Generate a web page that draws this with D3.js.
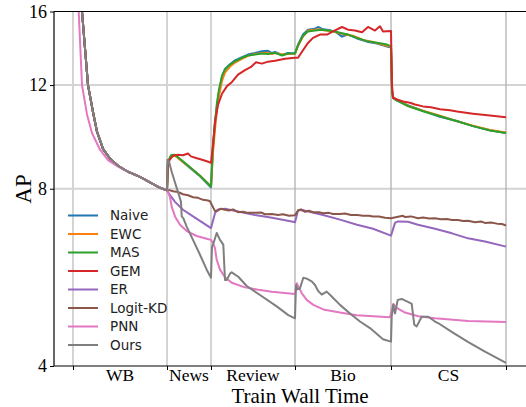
<!DOCTYPE html>
<html><head><meta charset="utf-8">
<script src="https://cdn.jsdelivr.net/npm/d3@7"></script>
<style>html,body{margin:0;padding:0;background:#fff;}svg{display:block;}</style>
</head><body>
<script>
// ---------- data ----------
const tasks = ["WB", "News", "Review", "Bio", "CS"];
const boundaries = [0, 9.4, 13.8, 22.2, 31.8, 43.3];
const yTicks = [4, 8, 12, 16];
const seriesNames = ["Naive", "EWC", "MAS", "GEM", "ER", "Logit-KD", "PNN", "Ours"];
const colors = ["#1f77b4", "#ff7f0e", "#2ca02c", "#d62728", "#9467bd", "#8c564b", "#e377c2", "#7f7f7f"];

const wbBase = [[0.4,26],[0.9,16],[1.5,12],[2.0,10.8],[2.4,10.0],[3.0,9.35],[3.7,9.0],[4.5,8.75],[5.5,8.55],[6.7,8.38],[7.7,8.2],[8.7,8.03],[9.4,7.95]];

const naive = [[9.5,8.85],[9.8,9.1],[10.2,9.12],[11.5,8.74],[12.7,8.4],[13.8,8.04],
  [14.0,9.4],[14.2,10.3],[14.4,11.1],[14.6,11.7],[14.9,12.4],[15.2,12.78],[15.7,13.02],[16.2,13.22],[16.9,13.38],[17.5,13.52],[18.2,13.6],[18.9,13.7],[19.5,13.72],[19.9,13.6],[20.2,13.66],[20.9,13.5],[21.5,13.6],[22.2,13.58],
  [22.5,14.05],[23.0,14.62],[23.5,14.9],[24.2,14.95],[24.5,15.06],[24.9,14.95],[25.5,14.88],[26.2,14.8],[26.9,14.5],[27.5,14.62],[28.4,14.4],[29.4,14.22],[30.4,14.12],[31.4,13.95],[31.8,13.9],
  [31.9,11.8],[32.0,11.45],[32.4,11.3],[33.4,11.1],[35.0,10.85],[36.7,10.6],[38.4,10.43],[40.0,10.22],[41.7,10.06],[43.3,9.95]];
const ewc = [[9.5,8.8],[9.8,9.08],[10.2,9.1],[11.5,8.75],[12.7,8.42],[13.8,8.07],
  [14.0,9.2],[14.2,10.1],[14.4,10.9],[14.6,11.5],[14.9,12.2],[15.2,12.6],[15.7,12.9],[16.2,13.1],[16.9,13.3],[17.5,13.45],[18.2,13.55],[18.9,13.6],[19.5,13.62],[19.9,13.55],[20.2,13.6],[20.9,13.52],[21.5,13.55],[22.2,13.57],
  [22.5,14.0],[23.0,14.5],[23.5,14.85],[24.2,14.9],[24.7,14.92],[25.2,14.85],[25.9,14.82],[26.5,14.72],[27.2,14.62],[28.0,14.55],[29.0,14.32],[30.0,14.2],[31.0,14.05],[31.8,13.94],
  [31.9,11.75],[32.0,11.42],[32.4,11.32],[33.4,11.08],[35.0,10.86],[36.7,10.64],[38.4,10.42],[40.0,10.24],[41.7,10.07],[43.3,9.97]];
const mas = [[9.5,8.9],[9.8,9.12],[10.2,9.14],[11.5,8.76],[12.7,8.42],[13.8,8.07],
  [14.0,9.5],[14.2,10.4],[14.4,11.2],[14.6,11.8],[14.9,12.45],[15.2,12.75],[15.7,13.0],[16.2,13.17],[16.9,13.35],[17.5,13.47],[18.2,13.52],[18.9,13.58],[19.5,13.55],[20.2,13.61],[20.9,13.47],[21.5,13.58],[22.2,13.58],
  [22.5,14.0],[23.0,14.56],[23.5,14.8],[24.2,14.85],[24.9,14.9],[25.5,14.85],[26.2,14.8],[26.9,14.7],[27.5,14.62],[28.4,14.43],[29.4,14.25],[30.4,14.16],[31.4,14.06],[31.8,13.96],
  [31.9,11.7],[32.0,11.4],[32.2,11.34],[33.4,11.07],[35.0,10.83],[36.7,10.62],[38.4,10.42],[40.0,10.22],[41.7,10.05],[43.3,9.95]];
const gem = [[9.5,8.9],[10.0,9.1],[10.5,9.14],[11.0,9.12],[11.5,9.18],[11.8,9.08],[12.3,9.02],[13.0,8.95],[13.6,8.88],[13.8,8.85],
  [14.0,9.5],[14.2,10.4],[14.5,11.1],[14.9,11.6],[15.4,11.95],[15.9,12.15],[16.5,12.5],[17.2,12.72],[17.8,12.88],[18.3,13.12],[18.9,13.05],[19.5,13.15],[20.2,13.2],[21.2,13.3],[22.2,13.35],
  [22.5,13.35],[23.0,13.75],[23.5,14.15],[24.0,14.43],[24.7,14.62],[25.4,14.62],[26.0,14.8],[26.9,15.06],[27.5,14.9],[28.2,14.85],[28.9,14.75],[29.5,15.06],[30.2,14.85],[30.7,15.1],[31.0,14.8],[31.8,14.82],
  [31.9,12.0],[32.0,11.42],[32.4,11.34],[33.0,11.25],[33.7,11.2],[34.2,11.12],[35.0,11.04],[35.8,11.0],[36.7,10.92],[37.7,10.87],[38.4,10.82],[40.0,10.73],[41.7,10.65],[43.3,10.58]];
const er = [[9.7,7.8],[10.2,7.6],[11.0,7.37],[12.0,7.18],[13.0,7.0],[13.8,6.86],
  [14.2,7.27],[14.5,7.38],[15.2,7.4],[16.5,7.32],[18.2,7.22],[19.9,7.14],[22.0,7.03],[22.2,7.02],
  [22.5,7.35],[22.9,7.36],[25.0,7.22],[26.7,7.09],[28.4,6.95],[30.0,6.84],[31.8,6.66],
  [32.2,7.0],[32.5,7.04],[33.5,7.03],[34.5,6.95],[36.2,6.84],[37.9,6.72],[39.5,6.59],[41.2,6.51],[43.3,6.38]];
const logitKD = [[9.7,7.95],[10.0,7.92],[10.5,7.9],[11.0,7.83],[11.5,7.8],[12.0,7.74],[12.5,7.72],[13.0,7.66],[13.5,7.64],[13.7,7.62],
  [14.2,7.33],[14.5,7.35],[14.8,7.4],[15.2,7.37],[15.6,7.35],[16.0,7.38],[16.5,7.3],[17.0,7.31],[17.5,7.28],[18.2,7.28],[18.8,7.29],[19.2,7.24],[19.9,7.25],[20.5,7.22],[21.0,7.24],[21.6,7.2],[22.2,7.21],
  [22.5,7.35],[22.8,7.38],[23.2,7.31],[23.6,7.34],[24.0,7.3],[24.6,7.3],[25.0,7.27],[25.6,7.28],[26.0,7.25],[26.7,7.25],[27.2,7.26],[27.8,7.22],[28.4,7.22],[29.0,7.2],[29.6,7.2],[30.0,7.18],[30.6,7.18],[31.2,7.14],[31.8,7.13],
  [32.5,7.17],[33.0,7.2],[33.2,7.16],[33.8,7.18],[34.5,7.13],[35.0,7.15],[35.6,7.12],[36.2,7.13],[36.8,7.1],[37.4,7.11],[37.9,7.08],[38.5,7.08],[39.0,7.05],[39.5,7.06],[40.2,7.02],[40.8,7.04],[41.2,7.0],[41.8,7.01],[42.4,6.98],[42.9,6.97],[43.3,6.93]];
const pnn = [[0.3,26],[0.57,16],[0.9,12],[1.4,10.7],[1.9,9.95],[2.7,9.32],[3.5,8.95],[4.5,8.72],[5.5,8.55],[6.7,8.38],[7.7,8.2],[8.7,8.03],[9.4,7.97],
  [9.7,7.74],[9.87,7.46],[10.2,7.18],[10.7,6.95],[11.37,6.78],[12.37,6.65],[13.37,6.58],[13.8,6.55],
  [14.03,6.45],[14.2,6.34],[14.37,6.06],[14.7,5.83],[15.2,5.66],[15.87,5.54],[17.2,5.44],[18.53,5.39],[19.87,5.35],[22.2,5.3],
  [22.37,5.53],[22.53,5.46],[22.87,5.32],[23.37,5.18],[24.03,5.08],[25.03,4.99],[26.7,4.93],[28.37,4.88],[30.03,4.86],[31.7,4.84],
  [32.03,5.1],[32.37,5.02],[33.2,4.93],[34.53,4.86],[36.2,4.82],[39.53,4.77],[43.3,4.75]];
const ours = [[9.45,8.96],[9.6,8.9],[9.87,8.55],[10.2,8.2],[10.53,7.87],[10.8,7.6],[10.87,7.18],[11.03,7.13],[11.37,6.9],[12.0,6.55],[12.7,6.18],[13.37,5.83],[13.8,5.65],
  [13.9,6.38],[14.03,6.45],[14.37,6.73],[14.7,6.55],[15.03,6.43],[15.2,5.6],[15.37,5.6],[15.7,5.74],[15.87,5.77],[16.53,5.67],[17.37,5.47],[18.7,5.28],[20.37,5.05],[21.53,4.88],[22.2,4.82],
  [22.3,5.49],[22.45,5.4],[22.7,5.42],[23.03,5.65],[23.37,5.63],[23.87,5.57],[24.2,5.49],[24.53,5.36],[24.87,5.29],[25.37,5.35],[25.87,5.25],[26.7,5.08],[27.7,4.91],[28.7,4.76],[29.7,4.64],[31.0,4.44],[31.8,4.4],
  [31.87,4.85],[32.03,5.08],[32.2,4.91],[32.47,5.18],[32.87,5.2],[33.7,5.12],[33.87,5.1],[34.13,4.7],[34.37,4.67],[34.87,4.85],[35.53,4.85],[36.2,4.76],[36.7,4.71],[37.87,4.57],[39.53,4.39],[41.2,4.23],[43.3,4.05]];

const seriesData = [
  wbBase.concat(naive), wbBase.concat(ewc), wbBase.concat(mas), wbBase.concat(gem),
  wbBase.concat(er), wbBase.concat(logitKD), pnn, wbBase.concat(ours)
];

// ---------- chart ----------
const W = 526, H = 407;
const m = {left: 54, top: 11.5, right: 0, bottom: 41};
const svg = d3.select("body").append("svg").attr("width", W).attr("height", H);

const x = d3.scaleLinear().domain([-1.9, 45.3]).range([m.left, W]);
const y = d3.scaleLog().base(2).domain([4, 16]).range([H - m.bottom, m.top]);
const serif = "Liberation Serif, Times New Roman, serif";

svg.append("defs").append("clipPath").attr("id", "clip")
  .append("rect").attr("x", m.left).attr("y", m.top).attr("width", W - m.left).attr("height", H - m.bottom - m.top);

// grid
const grid = svg.append("g");
grid.selectAll(".hg").data([8, 12]).join("line")
  .attr("x1", m.left).attr("x2", W).attr("y1", d => y(d)).attr("y2", d => y(d))
  .attr("stroke", "#d4d4d4").attr("stroke-width", 2);
grid.selectAll(".vg").data(boundaries).join("line")
  .attr("x1", d => x(d)).attr("x2", d => x(d)).attr("y1", m.top).attr("y2", H - m.bottom)
  .attr("stroke", (d, i) => i < 3 ? "#d4d4d4" : "#aaaaaa")
  .attr("stroke-width", (d, i) => i < 3 ? 2 : 1.2);

// lines
const line = d3.line().x(d => x(d[0])).y(d => y(d[1]));
const lg = svg.append("g").attr("clip-path", "url(#clip)");
seriesData.forEach((s, i) => {
  lg.append("path").datum(s).attr("d", line).attr("fill", "none")
    .attr("stroke", colors[i]).attr("stroke-width", 2).attr("stroke-linejoin", "round");
});

// axes
const yAxis = d3.axisLeft(y).tickValues(yTicks).tickFormat(d3.format("d")).tickSize(4).tickPadding(3);
const ga = svg.append("g").attr("transform", `translate(${m.left},0)`).call(yAxis)
  .attr("font-family", serif).attr("font-size", 18);
ga.select(".domain").remove();
ga.selectAll("text").attr("fill", "#000");
ga.selectAll("line").attr("stroke", "#000");

const xAxis = d3.axisBottom(x).tickValues(boundaries).tickFormat("").tickSize(4);
const gx = svg.append("g").attr("transform", `translate(0,${H - m.bottom})`).call(xAxis);
gx.select(".domain").remove();
gx.selectAll("line").attr("stroke", "#000");

// task labels centered between boundaries
svg.append("g").attr("font-family", serif).attr("font-size", 17.5)
  .selectAll("text").data(tasks).join("text")
  .attr("x", (d, i) => x((boundaries[i] + boundaries[i + 1]) / 2))
  .attr("y", H - m.bottom + 15).attr("text-anchor", "middle").text(d => d);

// spines
svg.append("line").attr("x1", m.left).attr("x2", W).attr("y1", m.top).attr("y2", m.top).attr("stroke", "#000").attr("stroke-width", 1.2);
svg.append("line").attr("x1", m.left).attr("x2", W).attr("y1", H - m.bottom).attr("y2", H - m.bottom).attr("stroke", "#000").attr("stroke-width", 1.2);
svg.append("line").attr("x1", m.left).attr("x2", m.left).attr("y1", m.top).attr("y2", H - m.bottom).attr("stroke", "#000").attr("stroke-width", 1.2);

// axis titles
svg.append("text").attr("x", 300).attr("y", 402.6).attr("text-anchor", "middle")
  .attr("font-family", serif).attr("font-size", 21).text("Train Wall Time");
svg.append("text").attr("transform", "translate(31,189) rotate(-90)").attr("text-anchor", "middle")
  .attr("font-family", serif).attr("font-size", 23).text("AP");

// legend
const leg = svg.append("g");
seriesNames.forEach((n, i) => {
  const yy = 215.5 + i * 18.5;
  leg.append("line").attr("x1", 68).attr("x2", 98).attr("y1", yy).attr("y2", yy)
    .attr("stroke", colors[i]).attr("stroke-width", 2);
  leg.append("text").attr("x", 110).attr("y", yy).attr("dy", "0.35em")
    .attr("font-family", "DejaVu Sans, sans-serif").attr("font-size", 13.5).attr("fill", "#222").text(n);
});
</script>
</body></html>
